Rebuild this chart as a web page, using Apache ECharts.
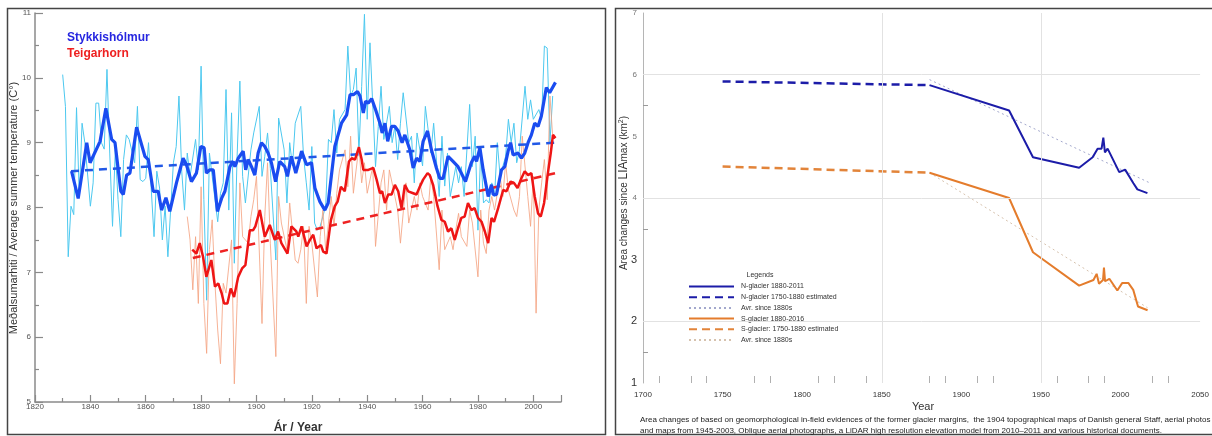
<!DOCTYPE html>
<html>
<head>
<meta charset="utf-8">
<title>Summer temperature / glacier area</title>
<script src="https://cdn.jsdelivr.net/npm/echarts@6/dist/echarts.min.js"></script>
<style>
  html, body { margin: 0; padding: 0; background: #fff; }
  #chart { width: 1212px; height: 436px; }
</style>
</head>
<body>
<div id="chart"></div>
<script>
// left panel - average summer temperature, [year, degC]
var stykAnnual = [[1830,10.05],[1831,9.56],[1832,7.24],[1833,8.02],[1834,7.89],[1835,9.54],[1836,8.17],[1837,9.30],[1838,9.00],[1840,8.02],[1841,8.38],[1842,9.61],[1843,9.61],[1844,9.00],[1845,8.90],[1846,10.13],[1847,8.84],[1848,7.71],[1849,8.89],[1850,8.12],[1851,7.55],[1852,8.74],[1853,9.12],[1854,9.05],[1856,8.69],[1857,9.56],[1858,8.43],[1859,8.40],[1860,8.45],[1861,9.00],[1863,7.55],[1864,8.56],[1865,8.30],[1866,7.50],[1867,8.02],[1868,7.24],[1870,8.69],[1871,8.94],[1872,9.72],[1873,8.56],[1874,7.96],[1875,8.84],[1876,8.48],[1878,9.05],[1879,8.58],[1880,10.18],[1881,8.12],[1882,6.57],[1883,8.84],[1884,8.48],[1886,7.78],[1887,8.22],[1888,8.38],[1889,9.82],[1890,7.96],[1891,9.46],[1892,7.14],[1893,8.79],[1894,9.95],[1895,8.48],[1896,8.07],[1898,8.89],[1899,9.15],[1901,9.56],[1902,8.48],[1903,8.79],[1904,9.15],[1905,8.60],[1907,7.19],[1908,9.38],[1910,8.89],[1911,8.07],[1912,9.00],[1913,8.64],[1914,9.30],[1916,9.56],[1917,8.79],[1918,8.38],[1919,7.96],[1920,8.94],[1921,7.76],[1922,7.65],[1923,7.71],[1925,8.02],[1926,9.05],[1927,9.00],[1928,9.51],[1929,8.84],[1930,9.36],[1932,9.51],[1933,10.49],[1934,9.72],[1935,9.82],[1936,10.15],[1937,8.84],[1938,9.87],[1939,10.98],[1940,9.36],[1941,10.54],[1943,8.63],[1944,9.25],[1945,9.87],[1946,9.05],[1948,9.56],[1949,9.00],[1950,9.25],[1951,8.74],[1952,9.30],[1953,9.77],[1955,9.00],[1956,9.10],[1957,8.38],[1958,9.15],[1960,8.64],[1961,9.56],[1963,8.84],[1964,9.30],[1966,8.17],[1967,9.10],[1968,8.33],[1969,8.84],[1970,8.17],[1972,8.63],[1973,8.38],[1974,8.63],[1975,8.17],[1977,9.59],[1978,8.63],[1979,9.10],[1980,7.65],[1981,8.89],[1982,8.07],[1983,8.12],[1984,8.07],[1985,8.38],[1986,8.17],[1987,9.00],[1988,8.48],[1990,8.79],[1991,9.36],[1992,9.00],[1993,9.30],[1994,8.69],[1995,8.89],[1997,9.87],[1998,9.36],[1999,9.66],[2000,9.36],[2002,9.51],[2003,9.36],[2004,10.49],[2005,10.46],[2006,9.00],[2007,9.72]];
var stykSmooth = [[1833.2,8.56],[1835.6,8.14],[1838.7,9.00],[1839.9,8.69],[1843.5,9.02],[1845.6,9.53],[1847.7,9.05],[1848.9,9.00],[1851.0,8.25],[1851.9,8.20],[1853.1,8.50],[1854.3,8.53],[1856.7,9.24],[1859.7,8.79],[1860.9,8.74],[1862.7,8.25],[1864.5,8.25],[1865.7,7.96],[1867.3,8.15],[1868.7,7.94],[1871.1,8.38],[1873.5,8.76],[1874.7,8.66],[1876.5,8.40],[1878.3,8.53],[1879.9,8.94],[1881.1,8.92],[1881.9,8.53],[1883.1,8.58],[1884.4,8.58],[1885.9,7.94],[1887.4,8.14],[1888.6,8.25],[1890.4,8.63],[1891.6,8.71],[1892.2,8.63],[1893.4,8.76],[1895.2,8.87],[1896.1,8.58],[1897.0,8.74],[1898.2,8.63],[1899.4,8.50],[1900.6,8.84],[1901.8,9.00],[1903.0,8.94],[1904.2,8.84],[1905.4,8.69],[1906.9,8.40],[1908.4,8.71],[1910.2,8.63],[1911.2,8.48],[1912.6,8.79],[1914.2,8.53],[1916.3,8.87],[1918.1,8.66],[1919.9,8.69],[1921.1,8.30],[1922.9,8.09],[1924.7,7.96],[1925.9,8.07],[1928.3,8.94],[1930.7,9.30],[1932.6,9.43],[1933.8,9.74],[1935.0,9.74],[1936.5,9.79],[1937.4,9.72],[1938.6,9.46],[1939.4,9.64],[1940.4,9.61],[1941.6,9.68],[1943.0,9.51],[1944.6,9.30],[1945.4,9.15],[1946.4,9.30],[1947.4,9.02],[1948.8,9.25],[1950.0,9.25],[1951.2,9.18],[1952.6,9.00],[1953.6,9.12],[1955.4,8.89],[1956.6,8.61],[1957.8,8.76],[1959.0,8.71],[1960.2,9.02],[1961.8,9.18],[1963.2,8.89],[1965.0,8.61],[1966.2,8.45],[1967.4,8.45],[1969.2,8.79],[1971.0,8.71],[1972.8,8.63],[1974.0,8.53],[1975.5,8.40],[1977.6,8.69],[1978.8,8.79],[1979.5,8.71],[1980.7,8.92],[1981.9,8.58],[1983.7,8.17],[1984.9,8.35],[1985.5,8.20],[1986.7,8.20],[1988.5,8.58],[1989.7,8.63],[1990.9,8.87],[1991.8,9.00],[1992.7,8.81],[1994.5,8.84],[1995.7,8.76],[1996.9,8.84],[1998.1,9.00],[1999.3,9.12],[2000.5,9.30],[2001.7,9.25],[2002.9,9.41],[2004.7,9.85],[2005.9,9.77],[2008.0,9.93]];
var stykTrend = [[1833, 8.56], [2008, 9.0]];

var teigAnnual = [[1875,7.86],[1876,7.50],[1877,6.73],[1878,7.55],[1879,6.52],[1880,8.32],[1881,6.52],[1882,5.75],[1883,7.35],[1884,7.81],[1885,6.83],[1886,6.11],[1887,5.59],[1888,6.83],[1889,6.68],[1891,7.50],[1892,5.28],[1893,6.52],[1894,8.38],[1895,7.55],[1897,7.45],[1898,7.86],[1899,8.12],[1900,8.48],[1902,6.21],[1903,7.86],[1904,8.69],[1905,7.45],[1907,5.70],[1908,8.17],[1909,7.76],[1911,7.35],[1912,8.07],[1914,7.19],[1915,7.14],[1916,7.35],[1917,7.71],[1918,6.52],[1919,7.71],[1920,7.45],[1922,6.62],[1923,7.55],[1924,7.96],[1925,7.35],[1927,8.17],[1928,7.71],[1929,8.22],[1930,8.58],[1932,8.89],[1933,8.32],[1934,9.10],[1935,8.22],[1937,8.94],[1938,8.38],[1939,8.69],[1940,8.22],[1942,8.63],[1943,7.40],[1945,8.38],[1946,8.58],[1947,7.96],[1948,8.58],[1950,8.17],[1951,7.96],[1952,7.45],[1954,8.38],[1955,7.76],[1957,8.17],[1958,7.96],[1959,8.38],[1960,8.17],[1962,7.96],[1963,8.48],[1964,8.17],[1966,7.04],[1967,7.96],[1968,7.35],[1970,7.55],[1971,7.35],[1972,7.66],[1973,7.91],[1974,7.55],[1976,7.40],[1977,7.96],[1978,7.76],[1980,6.93],[1981,7.96],[1982,7.45],[1983,7.29],[1984,7.96],[1985,8.17],[1986,7.96],[1988,8.48],[1989,8.17],[1990,8.69],[1991,8.27],[1993,7.96],[1994,7.86],[1995,8.17],[1996,9.10],[1998,8.17],[1999,7.71],[2000,8.48],[2001,6.37],[2002,7.96],[2003,8.38],[2004,8.74],[2005,8.12],[2006,9.72],[2007,9.10]];
var teigSmooth = [[1876.8,7.35],[1878.3,7.29],[1879.5,7.45],[1880.7,7.24],[1881.9,6.93],[1882.5,6.96],[1883.7,7.19],[1885.0,6.78],[1886.2,6.83],[1887.4,6.68],[1888.3,6.52],[1889.5,6.52],[1890.7,6.75],[1891.9,6.62],[1893.4,6.93],[1894.8,7.06],[1896.0,7.11],[1897.6,7.65],[1898.8,7.65],[1899.6,7.71],[1901.2,7.96],[1903.0,7.55],[1904.8,7.73],[1906.6,7.50],[1907.8,7.63],[1909.0,7.45],[1911.2,7.29],[1912.6,7.71],[1914.4,7.63],[1915.1,7.55],[1916.3,7.71],[1918.1,7.40],[1919.3,7.50],[1920.5,7.58],[1921.7,7.37],[1923.3,7.42],[1924.1,7.32],[1925.3,7.29],[1926.9,7.81],[1928.3,8.02],[1929.3,8.09],[1930.5,8.32],[1931.9,8.25],[1933.4,8.71],[1934.4,8.76],[1935.6,8.74],[1937.0,8.93],[1938.0,8.74],[1938.6,8.58],[1940.4,8.58],[1942.2,8.61],[1943.4,8.43],[1944.6,8.22],[1945.4,8.25],[1946.4,8.07],[1947.6,8.20],[1948.8,8.20],[1950.0,8.35],[1951.2,8.25],[1952.4,7.99],[1953.6,8.35],[1954.8,8.25],[1956.6,8.22],[1957.8,8.20],[1959.0,8.32],[1960.2,8.43],[1961.8,8.53],[1962.6,8.50],[1963.8,8.35],[1965.4,8.02],[1966.8,7.81],[1968.0,7.78],[1969.2,7.63],[1970.4,7.68],[1971.6,7.50],[1972.8,7.68],[1974.0,7.84],[1975.2,7.86],[1976.4,8.07],[1977.6,7.96],[1978.8,7.99],[1980.0,7.84],[1981.3,7.78],[1982.5,7.63],[1983.7,7.45],[1984.9,7.84],[1985.8,7.78],[1987.3,7.99],[1989.1,8.27],[1990.3,8.25],[1991.8,8.40],[1993.0,8.38],[1994.3,8.30],[1995.7,8.45],[1996.9,8.56],[1998.1,8.50],[1999.3,8.53],[2000.5,8.17],[2001.7,7.91],[2002.7,7.86],[2003.9,8.07],[2005.1,8.48],[2006.3,8.84],[2007.1,9.12],[2008.0,9.07]];
var teigTrend = [[1877, 7.22], [2008, 8.53]];

// right panel - glacier area since LIAmax, [year, km2]
var nGlacier = [[1880,5.83],[1930,5.42],[1945,4.66],[1974,4.49],[1982.5,4.66],[1985.6,4.80],[1988.1,4.80],[1989.2,4.98],[1990.2,4.74],[1991.9,4.80],[1999.2,4.42],[2002.9,4.46],[2008.1,4.24],[2010.6,4.14],[2016.9,4.08]];
var nEstimated = [[1750, 5.89], [1880, 5.83]];
var nAverage = [[1880, 5.92], [2018, 4.25]];
var sGlacier = [[1880,4.41],[1930,4.00],[1945,3.12],[1974,2.58],[1983,2.67],[1985,2.77],[1986.5,2.61],[1989,2.67],[1989.6,2.87],[1990.3,2.65],[1993,2.69],[1998,2.50],[2001,2.62],[2005,2.62],[2008,2.51],[2011,2.24],[2017,2.18]];
var sEstimated = [[1750, 4.51], [1880, 4.41]];
var sAverage = [[1880, 4.41], [2017, 2.22]];
var glacierTickYears = [1710, 1730, 1740, 1770, 1780, 1810, 1820, 1840, 1880, 1890, 1910, 1920, 1950, 1960, 1980, 1990, 2020, 2030];
var glacierGridYears = [1850, 1950];
var glacierGridAreas = [2, 4, 6];

var chart = echarts.init(document.getElementById('chart'))
var FONT = '"Liberation Sans", Arial, sans-serif'

var gridMarks = glacierGridYears.map(function(y) { return { xAxis: y } })
  .concat(glacierGridAreas.map(function(a) { return { yAxis: a } }))

var option = {
  animation: false,
  textStyle: { fontFamily: FONT },
  grid: [
    { left: 35, top: 13, width: 526, height: 389 },
    { left: 643, top: 13, width: 560, height: 370 }
  ],
  xAxis: [
    {
      gridIndex: 0, type: 'value', min: 1820, max: 2010, interval: 20,
      axisLine: { lineStyle: { color: '#8a8a8a', width: 1.5 } },
      axisTick: { inside: true, length: 7, lineStyle: { color: '#8a8a8a', width: 1.2 } },
      minorTick: { show: true, splitNumber: 2, length: 4, lineStyle: { color: '#8a8a8a', width: 1.2 } },
      axisLabel: { fontSize: 8, color: '#555', margin: 1,
        formatter: function(v) { return v % 20 === 0 ? String(v) : '' } },
      splitLine: { show: false }
    },
    {
      gridIndex: 1, type: 'value', min: 1700, max: 2050, interval: 50,
      axisLine: { show: false },
      axisTick: { show: true, inside: true, length: 7, customValues: glacierTickYears,
        lineStyle: { color: '#b0b0b0' } },
      axisLabel: { fontSize: 8, color: '#333', margin: 8,
        formatter: function(v) { return String(v) } },
      splitLine: { show: false }
    }
  ],
  yAxis: [
    {
      gridIndex: 0, type: 'value', min: 5, max: 11, interval: 1,
      axisLine: { show: true, lineStyle: { color: '#8a8a8a', width: 1.5 } },
      axisTick: { show: true, inside: true, length: 8, lineStyle: { color: '#8a8a8a', width: 1.2 } },
      minorTick: { show: true, splitNumber: 2, length: 4, lineStyle: { color: '#8a8a8a', width: 1.2 } },
      axisLabel: { fontSize: 8, color: '#555', margin: 4 },
      splitLine: { show: false }
    },
    {
      gridIndex: 1, type: 'value', min: 1, max: 7, interval: 1,
      axisLine: { show: true, lineStyle: { color: '#b5b5b5' } },
      axisTick: { show: true, inside: true, length: 5, customValues: [1.5, 3.5, 5.5],
        lineStyle: { color: '#9a9a9a' } },
      axisLabel: {
        margin: 6,
        formatter: function(v) { return v <= 3 ? '{b|' + v + '}' : '{a|' + v + '}' },
        rich: {
          a: { fontSize: 8, color: '#777', fontFamily: FONT },
          b: { fontSize: 11, color: '#333', fontFamily: FONT }
        }
      },
      splitLine: { show: false }
    }
  ],
  legend: {
    data: ['N-glacier 1880-2011', 'N-glacier 1750-1880 estimated', 'Avr. since 1880s',
      'S-glacier 1880-2016', 'S-glacier: 1750-1880 estimated', 'Avr. since 1880s '],
    orient: 'vertical',
    left: 685, top: 268,
    padding: [15, 14, 5, 3],
    backgroundColor: '#fff',
    itemWidth: 45, itemHeight: 8, itemGap: 3.7,
    selectedMode: false,
    itemStyle: { opacity: 0 },
    textStyle: { fontSize: 7, color: '#333', fontFamily: FONT, padding: [0, 0, 0, 2] }
  },
  graphic: [
    { type: 'rect', shape: { x: 7.5, y: 8.5, width: 598, height: 426 },
      style: { fill: 'none', stroke: '#444', lineWidth: 1.5 }, z: 100 },
    { type: 'rect', shape: { x: 615.5, y: 8.5, width: 600, height: 426 },
      style: { fill: 'none', stroke: '#444', lineWidth: 1.5 }, z: 100 },
    { type: 'text', x: 67, y: 38, z: 100,
      style: { text: 'Stykkishólmur', fill: '#2626e0', font: 'bold 12px ' + FONT, verticalAlign: 'middle' } },
    { type: 'text', x: 67, y: 54, z: 100,
      style: { text: 'Teigarhorn', fill: '#ee2020', font: 'bold 12px ' + FONT, verticalAlign: 'middle' } },
    { type: 'text', x: 14, y: 208, rotation: Math.PI / 2, z: 100,
      style: { text: 'Meðalsumarhiti / Average summer temperature (C°)', fill: '#333',
        font: '11px ' + FONT, align: 'center', verticalAlign: 'middle' } },
    { type: 'text', x: 298, y: 428, z: 100,
      style: { text: 'Ár / Year', fill: '#333', font: 'bold 12px ' + FONT,
        align: 'center', verticalAlign: 'middle' } },
    { type: 'text', x: 624, y: 193, rotation: Math.PI / 2, z: 100,
      style: { text: 'Area changes since {big|LIA}max (km{sup|2})', fill: '#333',
        font: '10px ' + FONT, align: 'center', verticalAlign: 'middle',
        rich: { big: { fontSize: 12, fill: '#333', fontFamily: FONT },
          sup: { fontSize: 7, fill: '#333', fontFamily: FONT, verticalAlign: 'top' } } } },
    { type: 'text', x: 923, y: 407, z: 100,
      style: { text: 'Year', fill: '#333', font: '11px ' + FONT, align: 'center', verticalAlign: 'middle' } },
    { type: 'text', x: 760, y: 275, z: 120,
      style: { text: 'Legends', fill: '#333', font: '7px ' + FONT, align: 'center', verticalAlign: 'middle' } },
    { type: 'text', x: 640, y: 420, z: 100,
      style: { text: 'Area changes of based on geomorphological in-field evidences of the former glacier margins,  the 1904 topographical maps of Danish general Staff, aerial photos',
        fill: '#222', font: '8px ' + FONT, verticalAlign: 'middle' } },
    { type: 'text', x: 640, y: 431, z: 100,
      style: { text: 'and maps from 1945-2003, Oblique aerial photographs, a LiDAR high resolution elevation model from 2010\u20132011 and various historical documents.',
        fill: '#222', font: '8px ' + FONT, verticalAlign: 'middle' } }
  ],
  series: [
    // temperature panel
    { name: 'Stykkishólmur annual', type: 'line', xAxisIndex: 0, yAxisIndex: 0, data: stykAnnual,
      symbol: 'none', lineStyle: { color: '#4cc8ef', width: 1 } },
    { name: 'Teigarhorn annual', type: 'line', xAxisIndex: 0, yAxisIndex: 0, data: teigAnnual,
      symbol: 'none', lineStyle: { color: '#f4a484', width: 1, opacity: 0.85 } },
    { name: 'Stykkishólmur trend', type: 'line', xAxisIndex: 0, yAxisIndex: 0, data: stykTrend,
      symbol: 'none', lineStyle: { color: '#2158e6', width: 2.5, type: [8, 6] } },
    { name: 'Teigarhorn trend', type: 'line', xAxisIndex: 0, yAxisIndex: 0, data: teigTrend,
      symbol: 'none', lineStyle: { color: '#ee2222', width: 2.5, type: [8, 6] } },
    { name: 'Teigarhorn smooth', type: 'line', xAxisIndex: 0, yAxisIndex: 0, data: teigSmooth,
      symbol: 'none', lineStyle: { color: '#ee1515', width: 2.5 } },
    { name: 'Stykkishólmur smooth', type: 'line', xAxisIndex: 0, yAxisIndex: 0, data: stykSmooth,
      symbol: 'none', lineStyle: { color: '#1a4cf0', width: 3.2 } },
    // glacier panel
    { name: 'Avr. since 1880s', type: 'line', xAxisIndex: 1, yAxisIndex: 1, data: nAverage,
      symbol: 'none', lineStyle: { color: '#a3a8cc', width: 1, type: [2, 3] },
      markLine: { silent: true, symbol: ['none', 'none'], label: { show: false },
        lineStyle: { color: '#e2e2e2', type: 'solid', width: 1 }, data: gridMarks } },
    { name: 'Avr. since 1880s ', type: 'line', xAxisIndex: 1, yAxisIndex: 1, data: sAverage,
      symbol: 'none', lineStyle: { color: '#d6c2ae', width: 1, type: [2, 3] } },
    { name: 'N-glacier 1750-1880 estimated', type: 'line', xAxisIndex: 1, yAxisIndex: 1, data: nEstimated,
      symbol: 'none', lineStyle: { color: '#1c1ca8', width: 2.5, type: [8, 5] } },
    { name: 'N-glacier 1880-2011', type: 'line', xAxisIndex: 1, yAxisIndex: 1, data: nGlacier,
      symbol: 'none', lineStyle: { color: '#1c1ca8', width: 2 } },
    { name: 'S-glacier: 1750-1880 estimated', type: 'line', xAxisIndex: 1, yAxisIndex: 1, data: sEstimated,
      symbol: 'none', lineStyle: { color: '#e2843a', width: 2.5, type: [8, 5] } },
    { name: 'S-glacier 1880-2016', type: 'line', xAxisIndex: 1, yAxisIndex: 1, data: sGlacier,
      symbol: 'none', lineStyle: { color: '#e47c2c', width: 2 } }
  ]
}
chart.setOption(option)
</script>
</body>
</html>
